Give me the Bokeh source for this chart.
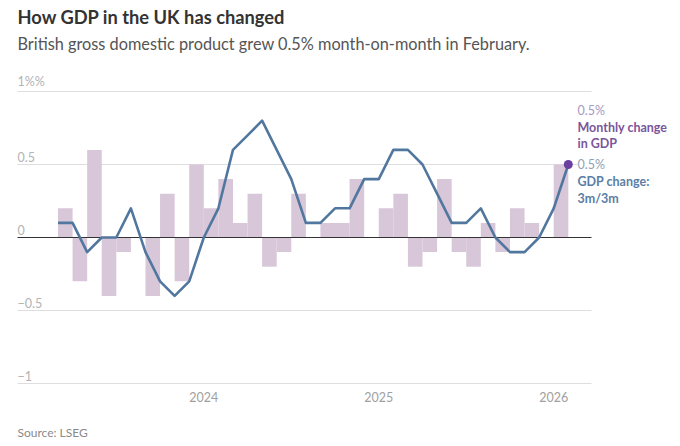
import pandas as pd
from bokeh.plotting import figure
from bokeh.models import Range1d
from bokeh.core.properties import value
from bokeh.embed import file_html
from bokeh.resources import INLINE

# --- data -------------------------------------------------------------
# GDP change, 3 months on 3 months (%), Mar 2023 - Feb 2026
gdp_3m3m = [0.1, 0.1, -0.1, 0.0, 0.0, 0.2, -0.1, -0.3, -0.4, -0.3,
            0.0, 0.2, 0.6, 0.7, 0.8, 0.6, 0.4, 0.1, 0.1, 0.2,
            0.2, 0.4, 0.4, 0.6, 0.6, 0.5, 0.3, 0.1, 0.1, 0.2,
            0.0, -0.1, -0.1, 0.0, 0.2, 0.5]
# Monthly change in GDP (%), Apr 2023 - Feb 2026
gdp_monthly = [0.2, -0.3, 0.6, -0.4, -0.1, 0.0, -0.4, 0.3, -0.3, 0.5,
               0.2, 0.4, 0.1, 0.3, -0.2, -0.1, 0.3, 0.0, 0.1, 0.1,
               0.4, 0.0, 0.2, 0.3, -0.2, -0.1, 0.4, -0.1, -0.2, 0.1,
               -0.1, 0.2, 0.1, 0.0, 0.5]
y_ticks = [1.0, 0.5, 0.0, -0.5, -1.0]
y_tick_labels = ["1%%", "0.5", "0", "\u22120.5", "\u22121"]
year_labels = ["2024", "2025", "2026"]

months = pd.date_range("2023-03-01", periods=len(gdp_3m3m), freq="MS")
line_x = list(range(len(months)))
bar_months = months[len(months) - len(gdp_monthly):]
bar_right = [line_x[list(months).index(m)] for m in bar_months]
bar_left = [r - 1 for r in bar_right]
year_x = [line_x[list(months).index(pd.Timestamp(f"{y}-01-01"))] for y in year_labels]

# --- canvas geometry (pixels) -----------------------------------------
W, H = 680, 446
X0_PX, MONTH_PX = 57.5, 14.58      # pixel of first month, pixels per month
Y0_PX, UNIT_PX = 237.0, 146.0      # pixel of zero, pixels per percentage point
LEFT_PX, RIGHT_PX = 17, 591        # extent of the grid lines


def dx(px):
    return (px - X0_PX) / MONTH_PX


def dy(py):
    return (Y0_PX - py) / UNIT_PX


FONT = value("Lato")
BAR_COLOR = "#d8c6d9"
LINE_COLOR = "#52779f"
DOT_COLOR = "#6b3fa0"

p = figure(width=W, height=H, x_range=Range1d(dx(0), dx(W)), y_range=Range1d(dy(H), dy(0)),
           min_border=0, toolbar_location=None, output_backend="svg")
p.axis.visible = False
p.grid.visible = False
p.outline_line_color = None
p.background_fill_color = "white"
p.border_fill_color = "white"

# grid lines
grid_vals = [v for v in y_ticks if v != 0]
p.segment(x0=[dx(LEFT_PX)] * len(grid_vals), x1=[dx(RIGHT_PX)] * len(grid_vals),
          y0=grid_vals, y1=grid_vals, line_color="#dedede", line_width=1)

# monthly bars
p.quad(left=bar_left, right=bar_right, bottom=0, top=gdp_monthly,
       fill_color=BAR_COLOR, line_color=None)

# zero line
p.segment(x0=[dx(LEFT_PX)], x1=[dx(RIGHT_PX)], y0=[0], y1=[0],
          line_color="#333333", line_width=1)

# 3m/3m line and end dot
p.line(x=line_x, y=gdp_3m3m, line_color=LINE_COLOR, line_width=2.6, line_join="round")

# y tick labels, sitting just above their grid lines
p.text(x=[dx(LEFT_PX)] * len(y_ticks), y=y_ticks, text=y_tick_labels,
       text_font=FONT, text_font_size=value("12.5px"), text_color="#b3b3b3",
       text_align="left", text_baseline="bottom", y_offset=-3)

# year labels
p.text(x=year_x, y=[dy(396)] * len(year_x), text=year_labels,
       text_font=FONT, text_font_size=value("12.5px"), text_color="#a0a0a0",
       text_align="center", text_baseline="middle")

# end labels
last_x = line_x[-1]
lab_x = dx(577)
p.text(x=[lab_x], y=[gdp_3m3m[-1]], text=[f"{gdp_3m3m[-1]}%"],
       text_font=FONT, text_font_size=value("12.5px"), text_color="#8fa2b7",
       text_align="left", text_baseline="middle",
       background_fill_color="white")
p.scatter(x=[last_x], y=[gdp_3m3m[-1]], size=9, fill_color=DOT_COLOR, line_color=None)
p.text(x=[lab_x] * 2, y=[dy(181), dy(198)], text=["GDP change:", "3m/3m"],
       text_font=FONT, text_font_size=value("12.5px"), text_font_style="bold",
       text_color="#5b7ea6", text_align="left", text_baseline="middle")

p.text(x=[lab_x], y=[dy(110)], text=[f"{gdp_monthly[-1]}%"],
       text_font=FONT, text_font_size=value("12.5px"), text_color="#a799bf",
       text_align="left", text_baseline="middle")
p.text(x=[lab_x] * 2, y=[dy(127), dy(143)], text=["Monthly change", "in GDP"],
       text_font=FONT, text_font_size=value("12.5px"), text_font_style="bold",
       text_color="#7a569b", text_align="left", text_baseline="middle")

# headline, subtitle and source
p.text(x=[dx(17)], y=[dy(16)], text=["How GDP in the UK has changed"],
       text_font=FONT, text_font_size=value("18.3px"), text_font_style="bold",
       text_color="#333333", text_align="left", text_baseline="middle")
p.text(x=[dx(17)], y=[dy(43)],
       text=["British gross domestic product grew 0.5% month-on-month in February."],
       text_font=FONT, text_font_size=value("16.3px"), text_color="#555555",
       text_align="left", text_baseline="middle")
p.text(x=[dx(17)], y=[dy(432)], text=["Source: LSEG"],
       text_font=FONT, text_font_size=value("12px"), text_color="#8a8a8a",
       text_align="left", text_baseline="middle")

open("out.html", "w").write(file_html(p, INLINE))
